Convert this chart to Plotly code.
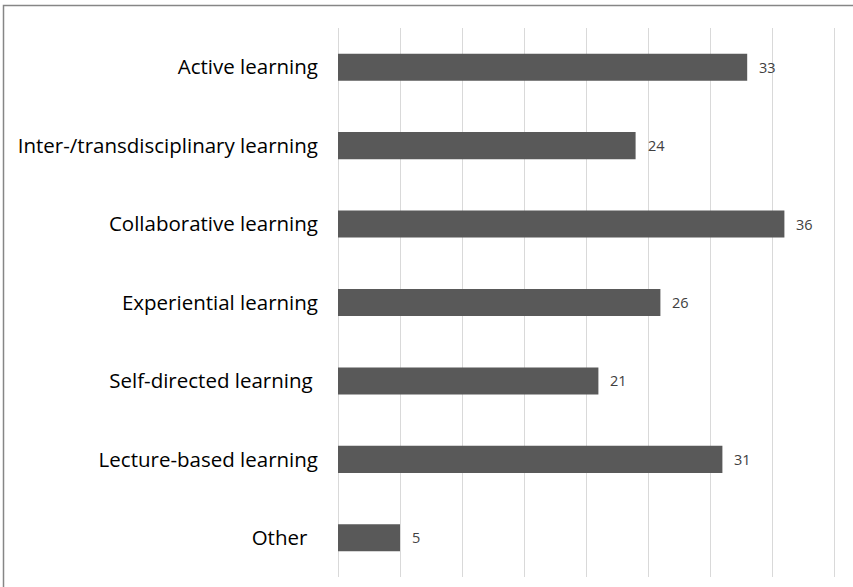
import plotly.graph_objects as go

categories = [
    "Active learning",
    "Inter-/transdisciplinary learning",
    "Collaborative learning",
    "Experiential learning",
    "Self-directed learning\u00a0",
    "Lecture-based learning",
    "Other\u00a0\u00a0",
]
values = [33, 24, 36, 26, 21, 31, 5]

W, H = 853, 587
L, R, T, B = 338, 13, 28, 10
pw, ph = W - L - R, H - T - B
xmax = 40 * pw / 496.0

fig = go.Figure(go.Bar(
    x=values, y=categories, orientation="h",
    marker=dict(color="#595959", line=dict(width=0)),
    width=0.345,
))

for c, v in zip(categories, values):
    fig.add_annotation(x=v, y=c, text=str(v), showarrow=False,
                       xanchor="left", xshift=10,
                       font=dict(family="Open Sans", size=14.5, color="#404040"))

fig.add_shape(type="rect", xref="paper", yref="paper",
              x0=(3.5 - L) / pw, x1=(W + 10 - L) / pw,
              y0=-0.1, y1=(H - B - 5.5) / ph,
              line=dict(color="#868686", width=1.5), layer="below")

fig.update_layout(
    width=W, height=H,
    margin=dict(l=L, r=R, t=T, b=B),
    paper_bgcolor="white", plot_bgcolor="white",
    showlegend=False,
    font=dict(family="Open Sans", size=20.5, color="#000000"),
    xaxis=dict(range=[0, xmax], tickvals=[0, 5, 10, 15, 20, 25, 30, 35, 40],
               showticklabels=False,
               showgrid=True, gridcolor="#d9d9d9", gridwidth=1.3,
               zeroline=True, zerolinecolor="#d9d9d9", zerolinewidth=1.3,
               showline=False, fixedrange=True),
    yaxis=dict(autorange="reversed", showgrid=False, zeroline=False,
               ticks="", ticklabelstandoff=19, showline=False, fixedrange=True,
               tickfont=dict(family="Open Sans", size=20.5, color="#000000")),
)

fig.write_html("out.html", config={"displayModeBar": False},
               post_script="document.body.style.margin='0';")
